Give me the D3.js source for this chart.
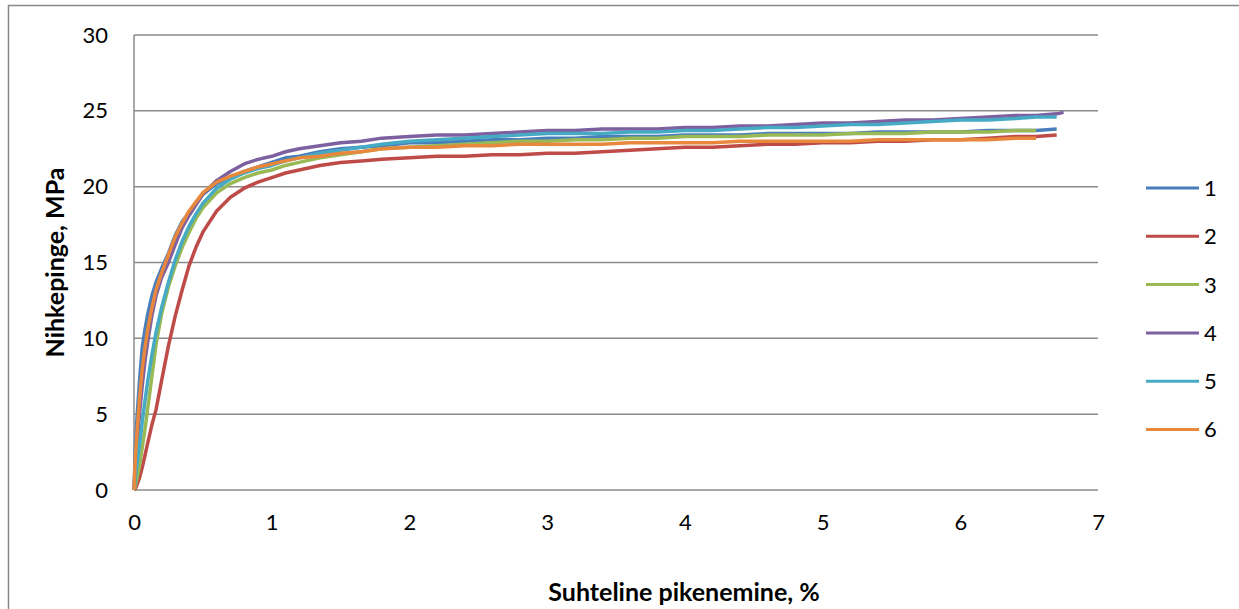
<!DOCTYPE html>
<html>
<head>
<meta charset="utf-8">
<script src="https://cdn.jsdelivr.net/npm/d3@7"></script>
<style>
  body { margin: 0; background: #fff; }
  svg { display: block; font-family: Lato, "Open Sans", sans-serif; }
</style>
</head>
<body>
<div id="container"></div>
<script>
/* DATA */
// strain grid, % (shared by all specimens)
const strain = [0, 0.01, 0.02, 0.04, 0.06, 0.08, 0.1, 0.13, 0.16, 0.2, 0.25, 0.3, 0.35, 0.4, 0.45, 0.5,
  0.6, 0.7, 0.8, 0.9, 1.0, 1.1, 1.2, 1.35, 1.5, 1.65, 1.8, 2.0, 2.2, 2.4, 2.6, 2.8, 3.0, 3.2, 3.4, 3.6,
  3.8, 4.0, 4.2, 4.4, 4.6, 4.8, 5.0, 5.2, 5.4, 5.6, 5.8, 6.0, 6.2, 6.4, 6.55, 6.7, 6.75];

// stress, MPa (null = specimen already ended)
const s1 = [0, 2.8, 4.5, 7.2, 9.4, 10.6, 11.6, 12.8, 13.7, 14.6, 15.6, 16.8, 17.7, 18.3, 18.9, 19.5,
  20.2, 20.6, 21.0, 21.3, 21.6, 21.9, 22.0, 22.3, 22.5, 22.6, 22.7, 22.9, 22.9, 23.0, 23.1, 23.1, 23.2, 23.2, 23.3, 23.3,
  23.3, 23.4, 23.4, 23.4, 23.5, 23.5, 23.5, 23.5, 23.6, 23.6, 23.6, 23.6, 23.7, 23.7, 23.7, 23.8, null];
const s2 = [0, 0.1, 0.3, 0.8, 1.5, 2.3, 3.1, 4.3, 5.3, 7.2, 9.5, 11.5, 13.2, 14.8, 16.0, 17.0,
  18.4, 19.3, 19.9, 20.3, 20.6, 20.9, 21.1, 21.4, 21.6, 21.7, 21.8, 21.9, 22.0, 22.0, 22.1, 22.1, 22.2, 22.2, 22.3, 22.4,
  22.5, 22.6, 22.6, 22.7, 22.8, 22.8, 22.9, 22.9, 23.0, 23.0, 23.1, 23.1, 23.2, 23.3, 23.3, 23.4, null];
const s3 = [0, 0.3, 0.7, 1.6, 2.8, 4.0, 5.4, 7.5, 9.6, 11.6, 13.4, 14.8, 16.0, 17.0, 17.9, 18.6,
  19.6, 20.2, 20.6, 20.9, 21.1, 21.4, 21.6, 21.9, 22.1, 22.3, 22.5, 22.6, 22.7, 22.8, 22.9, 23.0, 23.0, 23.1, 23.1, 23.2,
  23.2, 23.3, 23.3, 23.3, 23.4, 23.4, 23.4, 23.5, 23.5, 23.5, 23.6, 23.6, 23.6, 23.7, 23.7, null, null];
const s4 = [0, 1.5, 2.8, 5.0, 6.9, 8.5, 9.8, 11.5, 12.8, 14.0, 15.0, 16.2, 17.3, 18.1, 18.8, 19.5,
  20.4, 21.0, 21.5, 21.8, 22.0, 22.3, 22.5, 22.7, 22.9, 23.0, 23.2, 23.3, 23.4, 23.4, 23.5, 23.6, 23.7, 23.7, 23.8, 23.8,
  23.8, 23.9, 23.9, 24.0, 24.0, 24.1, 24.2, 24.2, 24.3, 24.4, 24.4, 24.5, 24.6, 24.7, 24.7, 24.8, 24.9];
const s5 = [0, 0.8, 1.6, 3.0, 4.5, 5.9, 7.2, 8.9, 10.4, 12.0, 13.7, 15.2, 16.4, 17.4, 18.2, 18.9,
  19.9, 20.5, 20.9, 21.2, 21.4, 21.7, 21.9, 22.2, 22.4, 22.6, 22.8, 23.0, 23.1, 23.2, 23.3, 23.4, 23.5, 23.5, 23.5, 23.6,
  23.6, 23.7, 23.7, 23.8, 23.9, 23.9, 24.0, 24.1, 24.1, 24.2, 24.3, 24.4, 24.4, 24.5, 24.6, 24.6, null];
const s6 = [0, 2.2, 3.6, 6.0, 8.0, 9.4, 10.6, 12.0, 13.2, 14.3, 15.5, 16.7, 17.6, 18.4, 19.0, 19.6,
  20.3, 20.7, 21.0, 21.3, 21.5, 21.7, 21.9, 22.0, 22.2, 22.3, 22.5, 22.6, 22.6, 22.7, 22.7, 22.8, 22.8, 22.8, 22.8, 22.9,
  22.9, 22.9, 22.9, 23.0, 23.0, 23.0, 23.0, 23.0, 23.1, 23.1, 23.1, 23.1, 23.1, 23.2, 23.2, null, null];

const names = ["1", "2", "3", "4", "5", "6"];
const colors = ["#4a7ebb", "#be4b48", "#98b954", "#7d60a0", "#46aac5", "#e8883c"];
const xTicks = [0, 1, 2, 3, 4, 5, 6, 7];
const yTicks = [0, 5, 10, 15, 20, 25, 30];

const series = [s1, s2, s3, s4, s5, s6].map((vals, i) => ({
  name: names[i],
  color: colors[i],
  points: strain.map((x, j) => ({ x: x, y: vals[j] }))
}));

/* CONSTANTS */
const width = 1239, height = 609;
const plot = { left: 134, right: 1098, top: 35, bottom: 490 };

/* SCALES */
const xScale = d3.scaleLinear().domain([0, 7]).range([plot.left, plot.right]);
const yScale = d3.scaleLinear().domain([0, 30]).range([plot.bottom, plot.top]);

/* SVG */
const svg = d3.select("#container")
  .append("svg")
  .attr("width", width)
  .attr("height", height);

// chart border
svg.append("rect")
  .attr("x", 8.5).attr("y", 5.5)
  .attr("width", width + 10).attr("height", height + 10)
  .attr("fill", "#fff")
  .attr("stroke", "#878787")
  .attr("stroke-width", 1.5);

// gridlines
svg.append("g")
  .selectAll("line")
  .data(yTicks)
  .join("line")
  .attr("x1", plot.left).attr("x2", plot.right)
  .attr("y1", d => yScale(d)).attr("y2", d => yScale(d))
  .attr("stroke", "#8a8a8a")
  .attr("stroke-width", 1.5);

// y axis line
svg.append("line")
  .attr("x1", plot.left).attr("x2", plot.left)
  .attr("y1", plot.top).attr("y2", plot.bottom)
  .attr("stroke", "#8a8a8a")
  .attr("stroke-width", 1.5);

// axes (labels only)
const yAxis = d3.axisLeft(yScale).tickValues(yTicks).tickSize(0).tickPadding(26);
const xAxis = d3.axisBottom(xScale).tickValues(xTicks).tickFormat(d3.format("d")).tickSize(0).tickPadding(24);

svg.append("g")
  .attr("transform", `translate(${plot.left},0)`)
  .call(yAxis)
  .call(g => g.select(".domain").remove())
  .call(g => g.selectAll("text").attr("font-size", 22).attr("fill", "#000").attr("font-family", "Lato"));

svg.append("g")
  .attr("transform", `translate(0,${plot.bottom})`)
  .call(xAxis)
  .call(g => g.select(".domain").remove())
  .call(g => g.selectAll("text").attr("font-size", 22).attr("fill", "#000").attr("font-family", "Lato"));

/* LINES */
const line = d3.line()
  .defined(d => d.y !== null)
  .x(d => xScale(d.x))
  .y(d => yScale(d.y));

svg.append("g")
  .selectAll("path")
  .data(series)
  .join("path")
  .attr("d", d => line(d.points))
  .attr("fill", "none")
  .attr("stroke", d => d.color)
  .attr("stroke-width", 3.5)
  .attr("stroke-linejoin", "round");

/* AXIS TITLES */
svg.append("text")
  .attr("transform", `translate(64,${(plot.top + plot.bottom) / 2}) rotate(-90)`)
  .attr("text-anchor", "middle")
  .attr("font-size", 25)
  .attr("font-weight", "bold")
  .text("Nihkepinge, MPa");

svg.append("text")
  .attr("x", 684)
  .attr("y", 601)
  .attr("text-anchor", "middle")
  .attr("font-size", 25)
  .attr("font-weight", "bold")
  .text("Suhteline pikenemine, %");

/* LEGEND */
const legend = svg.append("g")
  .selectAll("g")
  .data(series)
  .join("g")
  .attr("transform", (d, i) => `translate(1146,${188 + i * 48.3})`);

legend.append("line")
  .attr("x1", 0).attr("x2", 53)
  .attr("stroke", d => d.color)
  .attr("stroke-width", 3);

legend.append("text")
  .attr("x", 58)
  .attr("dy", "0.36em")
  .attr("font-size", 22)
  .text(d => d.name);
</script>
</body>
</html>
